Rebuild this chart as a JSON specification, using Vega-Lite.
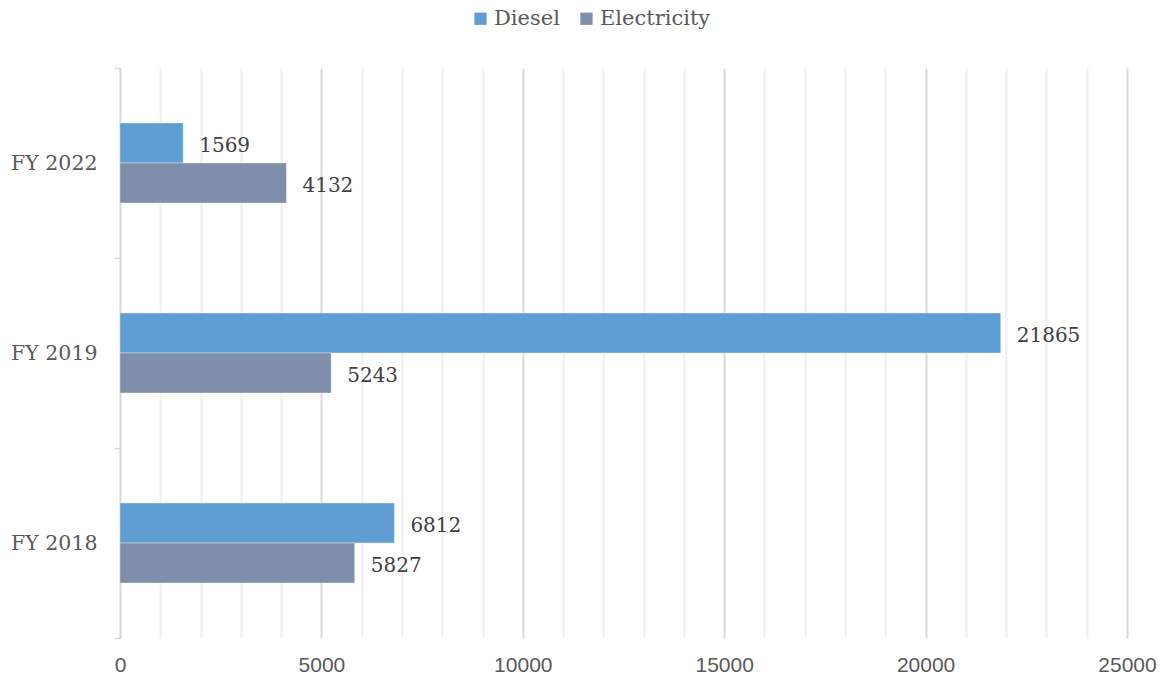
{
  "$schema": "https://vega.github.io/schema/vega-lite/v6.json",
  "width": 1007,
  "height": 570,
  "autosize": {"type": "none"},
  "padding": {"left": 120, "top": 68, "right": 36, "bottom": 43},
  "background": "#ffffff",
  "config": {
    "view": {"stroke": null},
    "font": "DejaVu Serif"
  },
  "data": {
    "values": [
      {"year": "FY 2022", "fuel": "Diesel", "value": 1569},
      {"year": "FY 2022", "fuel": "Electricity", "value": 4132},
      {"year": "FY 2019", "fuel": "Diesel", "value": 21865},
      {"year": "FY 2019", "fuel": "Electricity", "value": 5243},
      {"year": "FY 2018", "fuel": "Diesel", "value": 6812},
      {"year": "FY 2018", "fuel": "Electricity", "value": 5827}
    ]
  },
  "encoding": {
    "y": {
      "field": "year",
      "type": "nominal",
      "sort": ["FY 2022", "FY 2019", "FY 2018"],
      "scale": {"paddingInner": 0, "paddingOuter": 0},
      "axis": {
        "title": null,
        "domainColor": "#d9d9d9",
        "domainWidth": 1.5,
        "tickBand": "extent",
        "tickColor": "#d9d9d9",
        "tickSize": 6,
        "tickWidth": 1.5,
        "labelFont": "DejaVu Serif",
        "labelFontSize": 20.5,
        "labelColor": "#595959",
        "labelPadding": 17
      }
    },
    "yOffset": {
      "field": "fuel",
      "type": "nominal",
      "sort": ["Diesel", "Electricity"],
      "scale": {"range": [55, 135], "paddingInner": 0, "paddingOuter": 0}
    },
    "x": {
      "field": "value",
      "type": "quantitative",
      "scale": {"domain": [0, 25000], "nice": false},
      "axis": {
        "title": null,
        "values": [0, 1000, 2000, 3000, 4000, 5000, 6000, 7000, 8000, 9000, 10000, 11000, 12000, 13000, 14000, 15000, 16000, 17000, 18000, 19000, 20000, 21000, 22000, 23000, 24000, 25000],
        "format": "d",
        "labelExpr": "datum.value % 5000 === 0 ? datum.label : ''",
        "labelFlush": false,
        "labelOverlap": false,
        "domain": false,
        "ticks": false,
        "grid": true,
        "gridColor": {"condition": {"test": "datum.value % 5000 === 0", "value": "#d9d9d9"}, "value": "#efefef"},
        "gridWidth": 2,
        "labelFont": "Liberation Sans",
        "labelFontSize": 21,
        "labelColor": "#595959",
        "labelPadding": 16
      }
    }
  },
  "layer": [
    {
      "mark": {"type": "bar", "stroke": "#ffffff", "strokeOpacity": 0.35, "strokeWidth": 1},
      "encoding": {
        "color": {
          "field": "fuel",
          "type": "nominal",
          "sort": ["Diesel", "Electricity"],
          "scale": {"domain": ["Diesel", "Electricity"], "range": ["#5f9ed3", "#7f8eaa"]},
          "legend": {
            "title": null,
            "orient": "none",
            "direction": "horizontal",
            "legendX": 350,
            "legendY": -60,
            "symbolType": "square",
            "symbolSize": 150,
            "symbolStrokeWidth": 0,
            "labelFont": "DejaVu Serif",
            "labelFontSize": 21,
            "labelColor": "#595959",
            "labelOffset": 3,
            "columnPadding": 16
          }
        }
      }
    },
    {
      "mark": {"type": "text", "align": "left", "baseline": "middle", "dx": 16, "dy": 3, "font": "DejaVu Serif", "fontSize": 20, "color": "#404040"},
      "encoding": {
        "text": {"field": "value", "type": "quantitative", "format": "d"}
      }
    }
  ]
}
